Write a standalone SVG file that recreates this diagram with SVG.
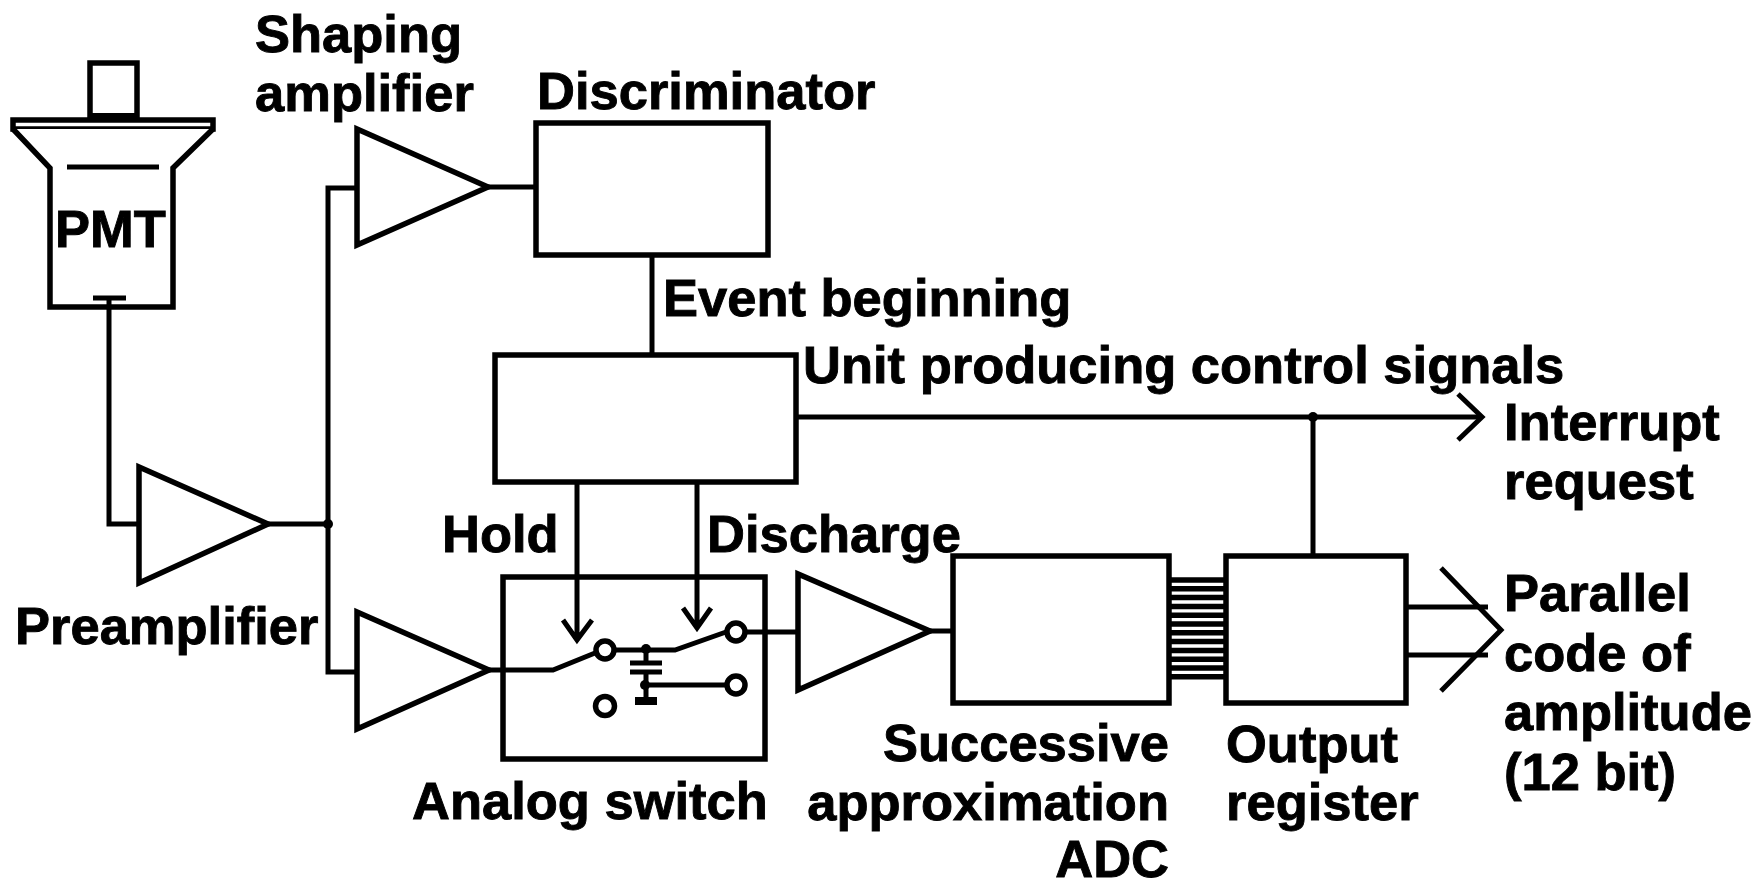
<svg xmlns="http://www.w3.org/2000/svg" width="1754" height="885" viewBox="0 0 1754 885">
<style>
text{font-family:"Liberation Sans",Arial,sans-serif;font-weight:700;font-size:52.500px;fill:#000;stroke:#000;stroke-width:.9}
.s{fill:#fff;stroke:#000;stroke-width:5.500;stroke-linejoin:miter}
.l{fill:none;stroke:#000;stroke-width:5}
.d{fill:#000}
</style>
<rect width="1754" height="885" fill="#fff"/>
<g id="pmt">
<rect class="s" x="90" y="63" width="47" height="54"/>
<rect class="d" x="90" y="113" width="47" height="6"/>
<rect class="s" x="13" y="120" width="200" height="9"/>
<path class="s" d="M13 129L50 168V307H173V168L213 129"/>
<path class="l" d="M67 167H159"/>
<path class="l" d="M93 298H126"/>
<text x="55" y="247">PMT</text>
</g>
<g id="preamplifier"><path class="s" d="M139 467V583L268 524Z"/><text x="15" y="644">Preamplifier</text></g>
<g id="shaping-amplifier"><path class="s" d="M357 129V245L488 187Z"/><text x="255" y="52">Shaping</text><text x="255" y="111">amplifier</text></g>
<g id="discriminator"><rect class="s" x="536" y="123" width="232" height="132"/><text x="537" y="109">Discriminator</text></g>
<g id="control-unit"><rect class="s" x="495" y="355" width="301" height="127"/><text x="803" y="383">Unit producing control signals</text></g>
<g id="analog-switch">
<rect class="s" x="503" y="577" width="262" height="182"/>
<path class="l" d="M614 650H675L726 632"/>
<path class="l" d="M646 650V664M646 672V701M646 685H726M630 663H662M630 672H662"/>
<circle class="d" cx="646" cy="649" r="5"/>
<circle class="d" cx="645" cy="685" r="5"/>
<rect class="d" x="635" y="697" width="22" height="8"/>
<circle class="s" cx="605" cy="650" r="9"/>
<circle class="s" cx="736" cy="632" r="9"/>
<circle class="s" cx="736" cy="685" r="9"/>
<circle class="s" cx="605" cy="706" r="9.500"/>
<text x="412" y="819">Analog switch</text>
</g>
<g id="lower-amplifier"><path class="s" d="M357 612V729L489 670Z"/></g>
<g id="adc-amplifier"><path class="s" d="M798 574V690L930 631Z"/></g>
<g id="adc"><rect class="s" x="953" y="556" width="216" height="147"/><text x="1169" y="761" text-anchor="end">Successive</text><text x="1169" y="820" text-anchor="end">approximation</text><text x="1169" y="877" text-anchor="end">ADC</text></g>
<g id="output-register"><rect class="s" x="1226" y="556" width="180" height="147"/><text x="1226" y="762">Output</text><text x="1226" y="820">register</text></g>
<g id="labels">
<text x="663" y="316">Event beginning</text>
<text x="442" y="552">Hold</text>
<text x="707" y="552">Discharge</text>
<text x="1504" y="440">Interrupt</text>
<text x="1504" y="499">request</text>
<text x="1504" y="611">Parallel</text>
<text x="1504" y="671">code of</text>
<text x="1504" y="730">amplitude</text>
<text x="1504" y="790">(12 bit)</text>
</g>
<g id="connectors">
<path class="l" d="M109 298V524H139"/>
<path class="l" d="M268 524H328"/>
<path class="l" d="M357 188H328V672H357"/>
<path class="l" d="M488 187H536"/>
<path class="l" d="M652 255V355"/>
<path class="l" d="M795 417H1480"/>
<path class="l" d="M1458 394L1482 417L1458 440"/>
<path class="l" d="M1313 417V555"/>
<circle class="d" cx="1313" cy="417" r="5"/>
<circle class="d" cx="328" cy="524" r="5"/>
<path class="l" d="M577 482V638M563 620L577 640L592 620"/>
<path class="l" d="M697 482V626M683 608L697 628L711 608"/>
<path class="l" d="M489 670H553L595 653"/>
<path class="l" d="M745 632H798"/>
<path class="l" d="M930 631H953"/>
<path id="bus" stroke="#000" stroke-width="5.500" fill="none" d="M1169 580H1226M1169 588.800H1226M1169 597.600H1226M1169 606.400H1226M1169 615.200H1226M1169 624H1226M1169 632.800H1226M1169 641.600H1226M1169 650.400H1226M1169 659.200H1226M1169 668H1226M1169 676.800H1226"/>
<path class="l" d="M1406 607H1488M1406 655H1488"/>
<path class="l" d="M1441 568L1501 630L1441 691"/>
</g>
</svg>
